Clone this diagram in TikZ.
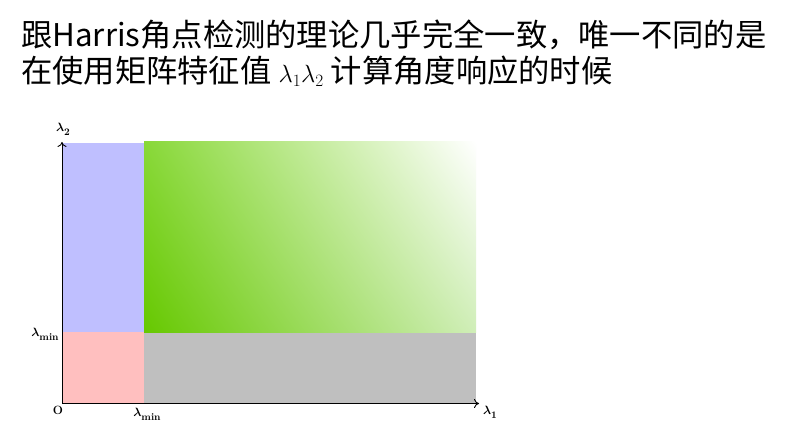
\documentclass[tikz,border=0pt]{standalone}
\usepackage{fontspec}
\usepackage{amsmath}
\newfontfamily\cjk{Noto Sans CJK SC}
\usetikzlibrary{arrows.meta,shadings}
\definecolor{regblue}{HTML}{BFBFFF}
\definecolor{regpink}{HTML}{FFBFBF}
\definecolor{reggray}{HTML}{BFBFBF}
\definecolor{gA}{HTML}{66C800}
\definecolor{gB}{HTML}{88D838}
\definecolor{gC}{HTML}{D0EEB8}
\newcommand{\lamsub}[1]{{\boldmath$\lambda$}\raisebox{-0.32em}{\fontsize{10}{10}\selectfont\bfseries #1}}
\tikzset{
  titletext/.style={anchor=west,inner sep=0pt,font=\cjk\fontsize{31.3}{34}\selectfont},
  axlabel/.style={inner sep=0pt,font=\fontsize{12}{13}\selectfont\bfseries},
  axisline/.style={draw=black,line width=0.9pt,-{To[length=5pt,width=9pt]}}
}
\begin{document}
\begin{tikzpicture}[x=1pt,y=-1pt]
\useasboundingbox[fill=white] (0,0) rectangle (788,425);
\node[titletext] (l1) at (21,35) {跟Harris角点检测的理论几乎完全一致，唯一不同的是};
\node[titletext] (l2) at (21,71) {在使用矩阵特征值 {\fontsize{27}{30}\selectfont$\lambda_1\lambda_2$} 计算角度响应的时候};
% regions
\fill[regblue] (62,143) rectangle (144,332);
\fill[regpink] (62,332) rectangle (144,403);
\fill[reggray] (144,332) rectangle (476,403);
\shade[lower left=gA, upper left=gB, upper right=white, lower right=gC] (144,142) rectangle (476,332);
% axes
\coordinate (o) at (62,403.5);
\coordinate (xend) at (479,403.5);
\coordinate (yend) at (62,142);
\draw[axisline] (o) -- (xend);
\draw[axisline] (o) -- (yend);
\node[axlabel] (ly) at (63,129) {\lamsub{2}};
\node[axlabel] (lx) at (490,412) {\lamsub{1}};
\node[axlabel] (lo) at (58,410) {O};
\node[axlabel] (lminy) at (45,334) {\lamsub{min}};
\node[axlabel] (lminx) at (147,414) {\lamsub{min}};
\end{tikzpicture}
\end{document}
